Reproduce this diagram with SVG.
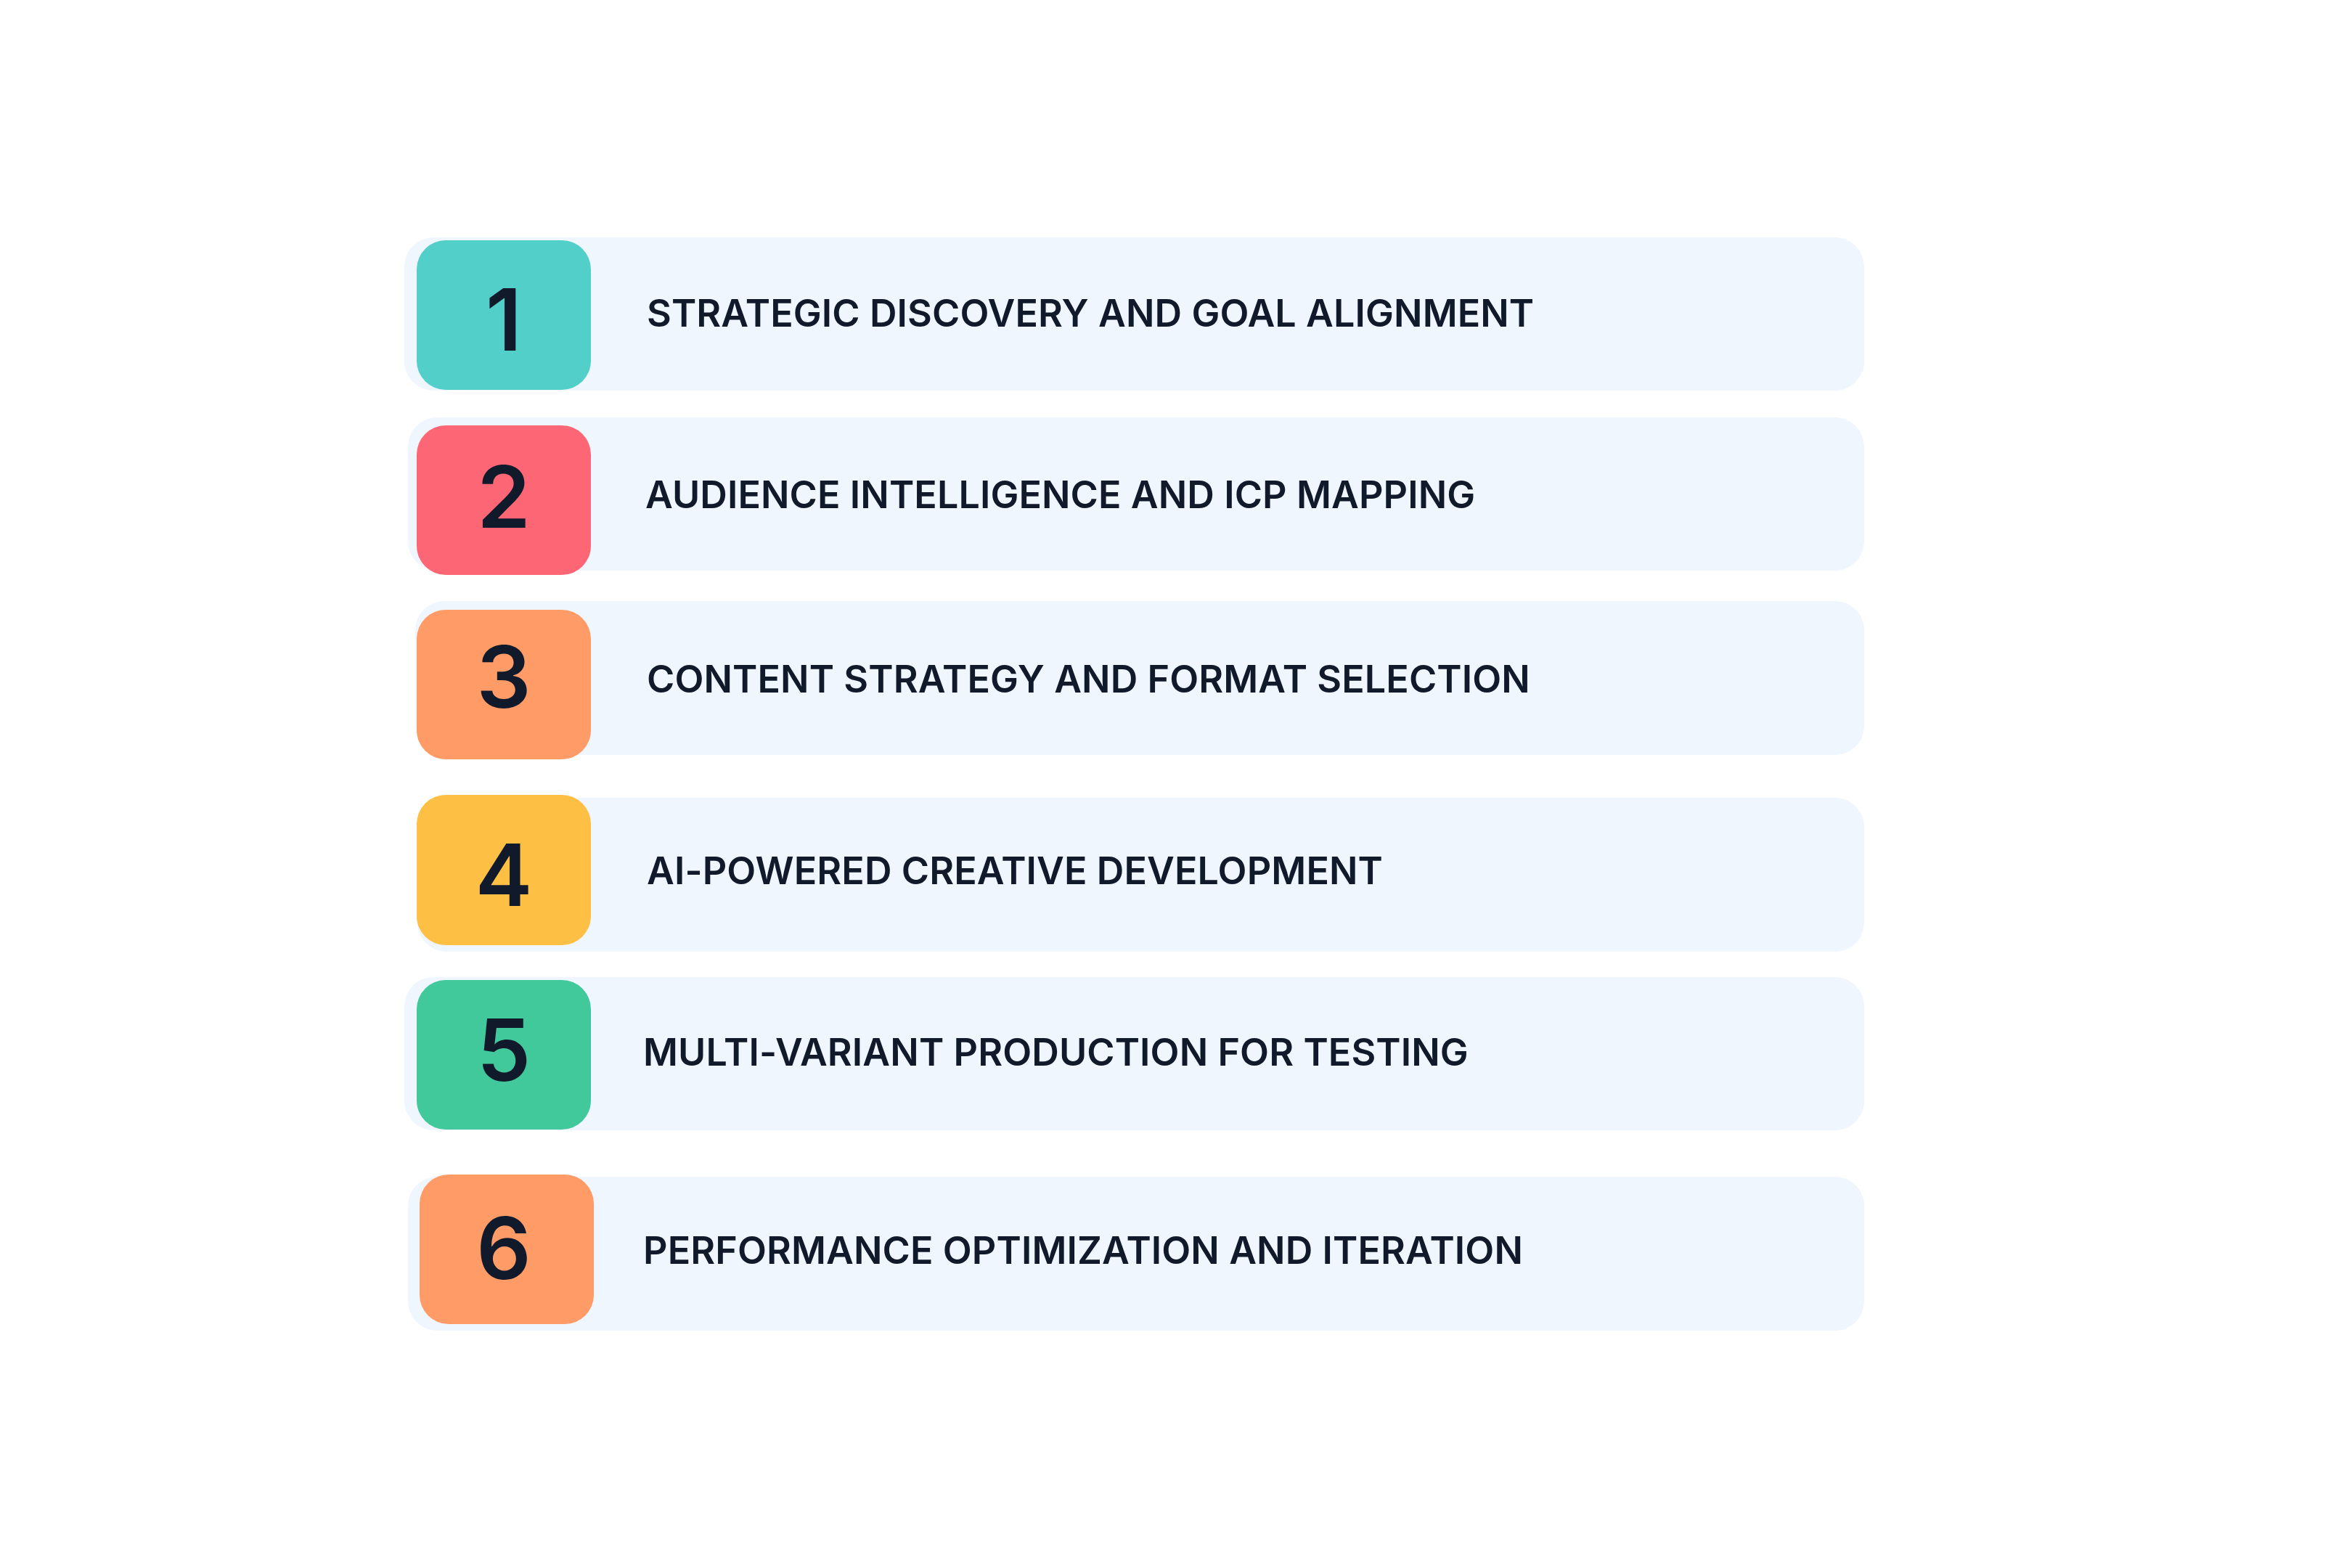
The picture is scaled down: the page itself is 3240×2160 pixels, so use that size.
<svg xmlns="http://www.w3.org/2000/svg" width="3240" height="2160" viewBox="0 0 3240 2160">
<style>
.bar{fill:#F0F6FE}
.num{font-family:Inter,"Noto Sans","Liberation Sans",sans-serif;font-weight:600;font-size:118px;fill:#111A2B;text-anchor:middle}
.lbl{font-family:Inter,"Noto Sans","Liberation Sans",sans-serif;font-weight:600;font-size:52px;fill:#111A2B;letter-spacing:0.1px}
</style>
<rect width="3240" height="2160" fill="#FFFFFF"/>
<g id="connectors"></g>
<g id="step1">
<rect class="bar" x="557" y="327" width="2011" height="211" rx="40"/>
<rect fill="#52CFC8" x="574" y="331" width="240" height="206" rx="40"/>
<text class="num" x="694" y="483">1</text>
<text class="lbl" x="891" y="450">STRATEGIC DISCOVERY AND GOAL ALIGNMENT</text>
</g>
<g id="step2">
<rect class="bar" x="562" y="575" width="2006" height="211" rx="40"/>
<rect fill="#FD6775" x="574" y="586" width="240" height="206" rx="40"/>
<text class="num" x="694" y="727">2</text>
<text class="lbl" x="889" y="700">AUDIENCE INTELLIGENCE AND ICP MAPPING</text>
</g>
<g id="step3">
<rect class="bar" x="572" y="828" width="1996" height="212" rx="40"/>
<rect fill="#FE9B66" x="574" y="840" width="240" height="206" rx="40"/>
<text class="num" x="694" y="975">3</text>
<text class="lbl" x="891" y="954">CONTENT STRATEGY AND FORMAT SELECTION</text>
</g>
<g id="step4">
<rect class="bar" x="575" y="1099" width="1993" height="212" rx="40"/>
<rect fill="#FDBF44" x="574" y="1095" width="240" height="207" rx="40"/>
<text class="num" x="694" y="1248">4</text>
<text class="lbl" x="891" y="1218">AI-POWERED CREATIVE DEVELOPMENT</text>
</g>
<g id="step5">
<rect class="bar" x="557" y="1346" width="2011" height="211" rx="40"/>
<rect fill="#41C99B" x="574" y="1350" width="240" height="206" rx="40"/>
<text class="num" x="694" y="1489">5</text>
<text class="lbl" x="886" y="1468">MULTI-VARIANT PRODUCTION FOR TESTING</text>
</g>
<g id="step6">
<rect class="bar" x="562" y="1621" width="2006" height="212" rx="40"/>
<rect fill="#FE9B66" x="578" y="1618" width="240" height="206" rx="40"/>
<text class="num" x="694" y="1762">6</text>
<text class="lbl" x="886" y="1741">PERFORMANCE OPTIMIZATION AND ITERATION</text>
</g>
</svg>
